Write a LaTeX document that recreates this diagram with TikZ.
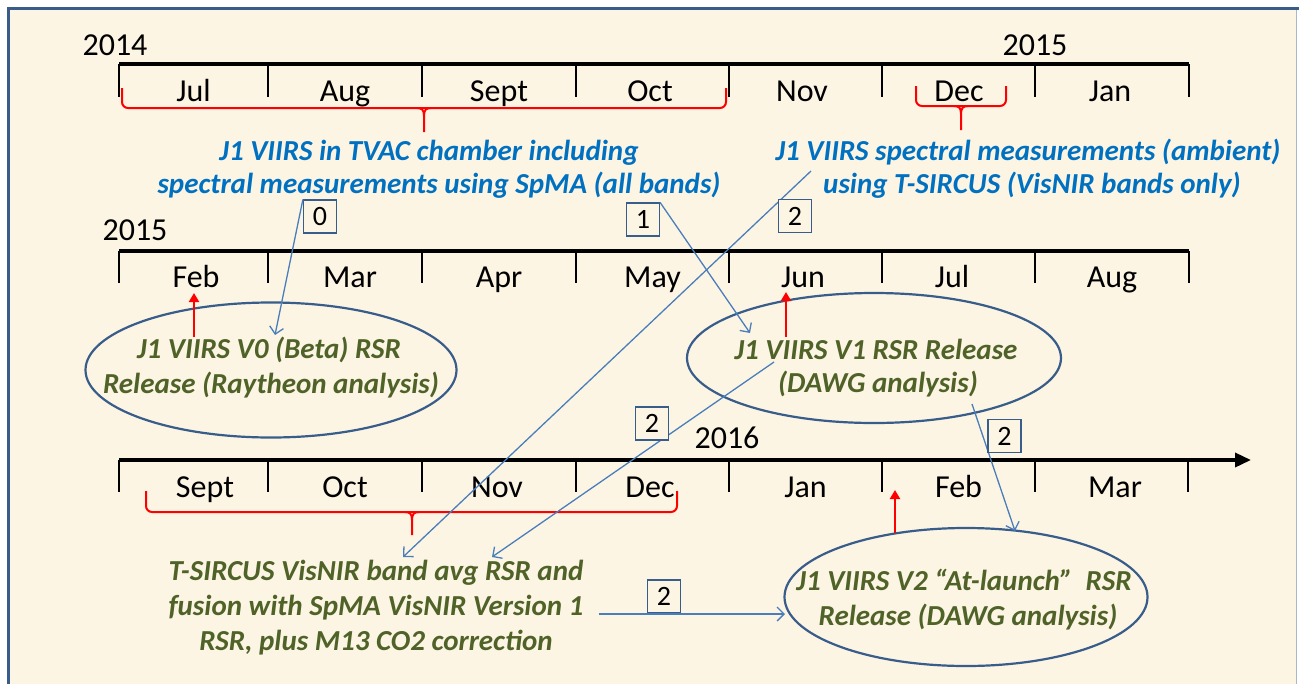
\documentclass[tikz,border=0pt]{standalone}
\usepackage{fontspec}
\setmainfont{Carlito}
\usetikzlibrary{arrows.meta,shapes.geometric}
\definecolor{bg}{HTML}{FDF5E4}
\definecolor{frame}{HTML}{385D8A}
\definecolor{txtblue}{HTML}{0070C0}
\definecolor{txtgreen}{HTML}{4F6228}
\definecolor{connc}{HTML}{4A7EBB}
\definecolor{edgec}{HTML}{A9B8CC}
\begin{document}
\begin{tikzpicture}[x=1pt,y=-1pt,
  month/.style={font=\fontsize{32}{38}\selectfont, anchor=base, inner sep=0pt},
  bluet/.style={font=\fontsize{29}{34}\selectfont\bfseries\itshape, text=txtblue, anchor=base, inner sep=0pt},
  greent/.style={font=\fontsize{29}{34}\selectfont\bfseries\itshape, text=txtgreen, anchor=base, inner sep=0pt},
  numbox/.style={draw=frame, line width=1.2pt, fill=bg, minimum width=33pt, minimum height=33pt, inner sep=0pt, font=\fontsize{28}{32}\selectfont},
  ell/.style={ellipse, draw=frame, line width=2.2pt, inner sep=0pt},
  conn/.style={draw=connc, line width=1.3pt, -{Straight Barb[length=7pt,width=14pt]}},
  redarr/.style={draw=red, line width=2.5pt, -{Triangle[length=9pt,width=10pt]}},
  tl/.style={line width=3.5pt},
  tickl/.style={line width=2.5pt},
  bracest/.style={draw=red, line width=2pt}
]
\useasboundingbox (0,0) rectangle (1299,683);
% frame
\fill[white] (0,0) rectangle (1299,683);
\fill[bg] (8,8) rectangle (1296,690);
\draw[edgec, line width=1.2pt] (1296.5,8) -- (1296.5,690);
\draw[frame, line width=3pt] (8,690) -- (8,8) -- (1299,8);

% timelines
\draw[tl] (119,64) -- (1189,64);
\foreach \x in {119,268,422,576,729,882,1035,1189} \draw[tickl] (\x,64) -- (\x,97);
\draw[tl] (119,251) -- (1189,251);
\foreach \x in {119,268,422,576,729,882,1035,1189} \draw[tickl] (\x,251) -- (\x,283);
\draw[tl, -{Triangle[length=16pt,width=14pt]}] (119,460) -- (1251,460);
\foreach \x in {119,268,422,576,729,882,1035,1188} \draw[tickl] (\x,460) -- (\x,492);

% years
\node[month] (y2014) at (115,55) {2014};
\node[month] (y2015a) at (1035,55) {2015};
\node[month] (y2015b) at (135,240) {2015};
\node[month] (y2016) at (727,448) {2016};

% months
\foreach \x/\m [count=\i] in {193.5/Jul,345/Aug,499/Sept,650/Oct,802/Nov,959/Dec,1110/Jan}
  \node[month] (ma\i) at (\x,101) {\m};
\foreach \x/\m [count=\i] in {196/Feb,350/Mar,499/Apr,652.5/May,803/Jun,952/Jul,1112/Aug}
  \node[month] (mb\i) at (\x,287) {\m};
\foreach \x/\m [count=\i] in {205/Sept,345/Oct,497/Nov,650/Dec,805.5/Jan,958.5/Feb,1115/Mar}
  \node[month] (mc\i) at (\x,497) {\m};

% braces
\draw[bracest, rounded corners=6pt] (122,88) -- (122,108) -- (726,108) -- (726,88);
\draw[bracest] (417,108) .. controls (422,108) and (424,110) .. (424,116) -- (424,132);
\draw[bracest] (431,108) .. controls (426,108) and (424,110) .. (424,116);

\draw[bracest, rounded corners=6pt] (916,86) -- (916,106) -- (1006,106) -- (1006,86);
\draw[bracest] (954,106) .. controls (959,106) and (961,108) .. (961,114) -- (961,130);
\draw[bracest] (968,106) .. controls (963,106) and (961,108) .. (961,114);

\draw[bracest, rounded corners=6pt] (146,491) -- (146,512) -- (677,512) -- (677,491);
\draw[bracest] (405,512) .. controls (410,512) and (412,514) .. (412,520) -- (412,535);
\draw[bracest] (419,512) .. controls (414,512) and (412,514) .. (412,520);

% blue texts
\node[bluet] (b1a) at (429,160) {J1 VIIRS in TVAC chamber including};
\node[bluet] (b1b) at (439,193) {spectral measurements using SpMA (all bands)};
\node[bluet] (b2a) at (1028,160) {J1 VIIRS spectral measurements (ambient)};
\node[bluet] (b2b) at (1032,193) {using T-SIRCUS (VisNIR bands only)};

% ellipses
\node[ell, minimum width=371pt, minimum height=135pt] (e0) at (271,370) {};
\node[ell, minimum width=374pt, minimum height=130pt] (e1) at (874,358) {};
\node[ell, minimum width=363pt, minimum height=138pt] (e2) at (966,597) {};

\node[greent] (e0a) at (269,358) {J1 VIIRS V0 (Beta) RSR};
\node[greent] (e0b) at (271,393) {Release (Raytheon analysis)};
\node[greent] (e1a) at (876,359) {J1 VIIRS V1 RSR Release};
\node[greent] (e1b) at (878,392) {(DAWG analysis)};
\node[greent] (e2a) at (964,590) {J1 VIIRS V2 “At-launch”\ \ RSR};
\node[greent] (e2b) at (968,625) {Release (DAWG analysis)};
\node[greent] (g1) at (376,580) {T-SIRCUS VisNIR band avg RSR and};
\node[greent] (g2) at (376,615) {fusion with SpMA VisNIR Version 1};
\node[greent] (g3) at (376,650) {RSR, plus M13 CO2 correction};

% red arrows
\coordinate (r1s) at (194,337); \coordinate (r1e) at (194,293);
\coordinate (r2s) at (786,337); \coordinate (r2e) at (786,292);
\coordinate (r3s) at (895,533); \coordinate (r3e) at (895,490);
\draw[redarr] (r1s) -- (r1e);
\draw[redarr] (r2s) -- (r2e);
\draw[redarr] (r3s) -- (r3e);

% connector end points
\coordinate (e0t) at (275,335);
\coordinate (e1t) at (750,333);
\coordinate (a2s) at (811,171);
\coordinate (ga) at (403,557);
\coordinate (a3s) at (774,362);
\coordinate (gb) at (492,557);
\coordinate (a4s) at (972,404);
\coordinate (e2t) at (1015,531);
\coordinate (a5s) at (599,614);
\coordinate (e2w) at (785,614);

% blue connectors
\draw[conn] (a2s) -- (ga);
\draw[conn] (a3s) -- (gb);
\draw[conn] (a4s) -- (e2t);

% number boxes
\node[numbox] (n0) at (320,216.5) {0};
\node[numbox] (n1) at (643,219.5) {1};
\node[numbox] (n2a) at (795,216) {2};
\node[numbox] (n2b) at (652,423.5) {2};
\node[numbox] (n2c) at (1004.5,436) {2};
\node[numbox] (n2d) at (664,596.5) {2};

\draw[conn] (n0.north west) -- (e0t);
\draw[conn] (n1.north east) -- (e1t);
\draw[conn] (a5s) -- (e2w);
\end{tikzpicture}
\end{document}
